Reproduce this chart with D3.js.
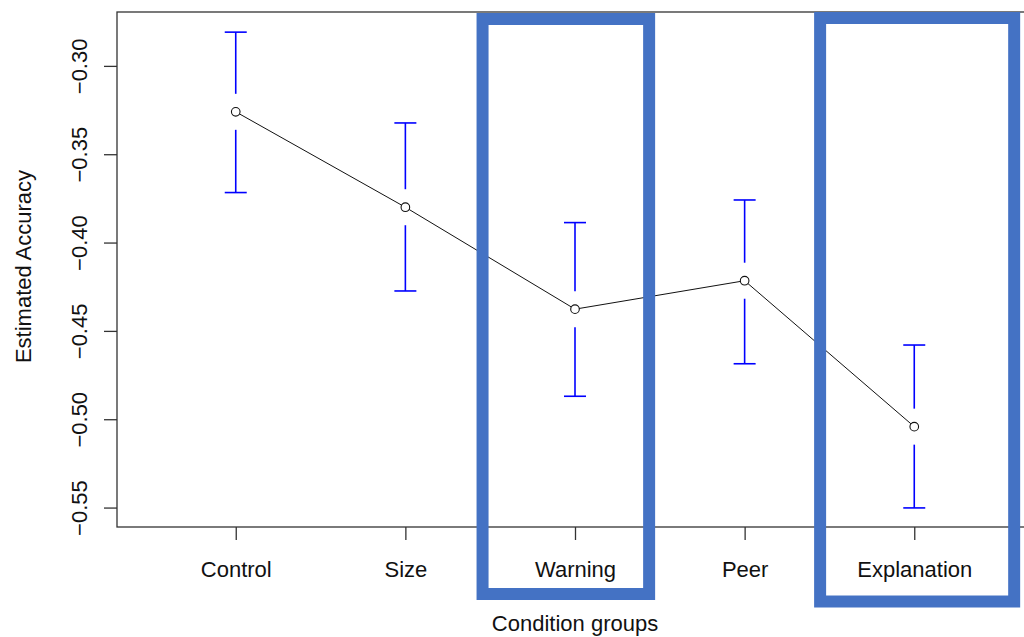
<!DOCTYPE html>
<html>
<head>
<meta charset="utf-8">
<script src="https://cdn.jsdelivr.net/npm/d3@7"></script>
<style>
  html, body { margin: 0; padding: 0; background: #fff; }
  svg { display: block; font-family: Arial, "Liberation Sans", sans-serif; }
</style>
</head>
<body>
<svg id="chart" width="1024" height="637"></svg>
<script>
const categories = ["Control", "Size", "Warning", "Peer", "Explanation"];
const estimates  = [-0.326, -0.380, -0.4377, -0.4216, -0.5042];
const upperCI    = [-0.2809, -0.3323, -0.3887, -0.3759, -0.4580];
const lowerCI    = [-0.3717, -0.4274, -0.4870, -0.4686, -0.5502];
const yTicks     = [-0.30, -0.35, -0.40, -0.45, -0.50, -0.55];
const highlighted = ["Warning", "Explanation"];

const svg = d3.select("#chart");

const x = d3.scaleLinear().domain([0.3, 5.7]).range([117, 1033]);
const y = d3.scaleLinear().domain([-0.561, -0.2695]).range([527, 12]);

// axes
const yAxis = d3.axisLeft(y).tickValues(yTicks).tickSize(13).tickPadding(0)
  .tickFormat(d3.format(".2f"));
const gy = svg.append("g").attr("transform", `translate(${x(0.3)},0)`).call(yAxis);
gy.select(".domain").remove();
gy.selectAll(".tick line").attr("stroke", "#333").attr("stroke-width", 1.3);
gy.selectAll(".tick text")
  .attr("transform", null)
  .attr("x", null).attr("dy", null)
  .attr("text-anchor", "middle")
  .attr("font-size", 22)
  .attr("fill", "#111")
  .attr("transform", d => `translate(${86.5 - x(0.3)},${0}) rotate(-90)`)
  .attr("dy", 0);

const xAxis = d3.axisBottom(x).tickValues(d3.range(1, categories.length + 1))
  .tickSize(13).tickPadding(0).tickFormat(i => categories[i - 1]);
const gx = svg.append("g").attr("transform", `translate(0,${y(-0.561)})`).call(xAxis);
gx.select(".domain").remove();
gx.selectAll(".tick line").attr("stroke", "#333").attr("stroke-width", 1.3);
gx.selectAll(".tick text").attr("font-size", 22).attr("fill", "#111")
  .attr("y", 50).attr("dy", 0);

// plot box
svg.append("rect")
  .attr("x", x(0.3)).attr("y", y(-0.2695))
  .attr("width", x(5.7) - x(0.3)).attr("height", y(-0.561) - y(-0.2695))
  .attr("fill", "none").attr("stroke", "#333").attr("stroke-width", 1.3);

// axis titles
svg.append("text")
  .attr("x", (x(0.3) + x(5.7)) / 2).attr("y", 631)
  .attr("text-anchor", "middle").attr("font-size", 22).attr("fill", "#111")
  .text("Condition groups");
svg.append("text")
  .attr("transform", `translate(31,${(y(-0.561) + y(-0.2695)) / 2 - 3}) rotate(-90)`)
  .attr("text-anchor", "middle").attr("font-size", 22).attr("fill", "#111")
  .text("Estimated Accuracy");

const data = categories.map((c, i) => ({
  c, i: i + 1, est: estimates[i], hi: upperCI[i], lo: lowerCI[i]
}));

// error bars
const gap = 18, cap = 11;
const eb = svg.append("g").attr("stroke", "#0000ff").attr("stroke-width", 1.6);
data.forEach(d => {
  const cx = x(d.i), cy = y(d.est);
  eb.append("line").attr("x1", cx).attr("x2", cx).attr("y1", y(d.hi)).attr("y2", cy - gap);
  eb.append("line").attr("x1", cx).attr("x2", cx).attr("y1", cy + gap).attr("y2", y(d.lo));
  eb.append("line").attr("x1", cx - cap).attr("x2", cx + cap).attr("y1", y(d.hi)).attr("y2", y(d.hi));
  eb.append("line").attr("x1", cx - cap).attr("x2", cx + cap).attr("y1", y(d.lo)).attr("y2", y(d.lo));
});

// connecting line
svg.append("path")
  .datum(data)
  .attr("fill", "none").attr("stroke", "#111").attr("stroke-width", 1)
  .attr("d", d3.line().x(d => x(d.i)).y(d => y(d.est)));

// points
svg.selectAll("circle.pt").data(data).join("circle")
  .attr("class", "pt")
  .attr("cx", d => x(d.i)).attr("cy", d => y(d.est)).attr("r", 4.3)
  .attr("fill", "#fff").attr("stroke", "#111").attr("stroke-width", 1.1);

// highlight boxes
const hlExtent = { Warning: [-0.545, 0.437], Explanation: [-0.555, 0.589] };
const hlY = { Warning: [19, 594], Explanation: [18, 601.5] };
highlighted.forEach(name => {
  const i = categories.indexOf(name) + 1;
  const [l, r] = hlExtent[name];
  const [t, b] = hlY[name];
  svg.append("rect")
    .attr("x", x(i + l)).attr("y", t)
    .attr("width", x(i + r) - x(i + l)).attr("height", b - t)
    .attr("fill", "none").attr("stroke", "#4472C4").attr("stroke-width", 12);
});
</script>
</body>
</html>
